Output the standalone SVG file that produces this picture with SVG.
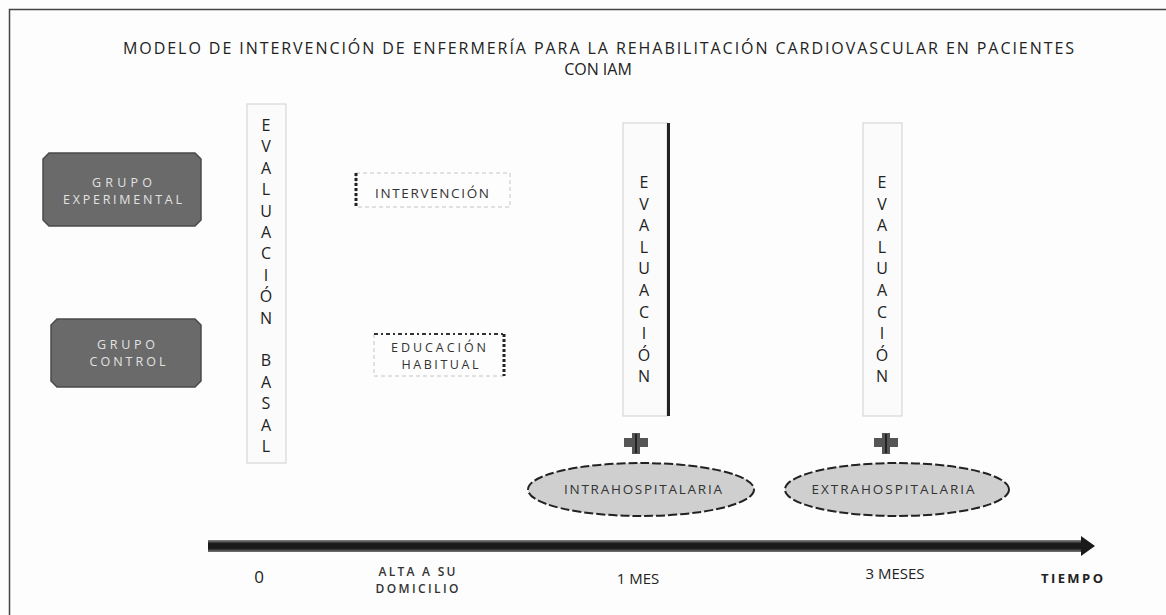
<svg xmlns="http://www.w3.org/2000/svg" width="1166" height="615" viewBox="0 0 1166 615">
<defs>
<style>
text{font-family:"Open Sans","Liberation Sans",sans-serif;}
.title{font-size:16px;fill:#222;}
.vl{font-size:16px;fill:#222;text-anchor:middle;}
.evbox{fill:#fbfbfb;stroke:#cfcfcf;stroke-width:1;}
.grp{fill:#6a6a6a;stroke:#4a4a4a;stroke-width:1.5;}
.grpt{font-size:12.5px;fill:#e2e2e2;}
.lbl{font-size:13.5px;fill:#333;}
.lbl2{font-size:12.5px;fill:#333;}
.ellt{font-size:13.5px;fill:#333;}
.light{fill:none;stroke:#c4c4c4;stroke-width:1;stroke-dasharray:4 3;}
.dotted{fill:none;stroke:#222;stroke-width:3;stroke-dasharray:3 2;}
.dashdot{fill:none;stroke:#333;stroke-width:2;stroke-dasharray:4 3 2 3;}
.ell{fill:#cfcfcf;stroke:#222;stroke-width:2;stroke-dasharray:9 3;}
.plush{fill:#555;}
.plusc{fill:#222;}
.axis{font-size:15px;fill:#222;text-anchor:middle;}
.small{font-size:12px;fill:#333;font-weight:600;}
</style>
<linearGradient id="shaft" x1="0" y1="0" x2="0" y2="1">
<stop offset="0" stop-color="#888"/>
<stop offset="0.3" stop-color="#1a1a1a"/>
<stop offset="0.7" stop-color="#1a1a1a"/>
<stop offset="1" stop-color="#777"/>
</linearGradient>
</defs>
<rect x="0" y="0" width="1166" height="615" fill="#fdfdfd"/>
<path d="M9.5,615 V9.5 H1166" fill="none" stroke="#444" stroke-width="1.5"/>

<g id="title">
<text class="title"><tspan x="123" y="54" textLength="951" lengthAdjust="spacing">MODELO DE INTERVENCIÓN DE ENFERMERÍA PARA LA REHABILITACIÓN CARDIOVASCULAR EN PACIENTES</tspan><tspan x="598" y="75" style="text-anchor:middle">CON IAM</tspan></text>
</g>

<g id="connectors">
<rect x="208" y="540" width="875" height="12" fill="url(#shaft)"/>
<polygon points="1081,536 1095,546 1081,556" fill="#1a1a1a"/>
</g>

<g id="grupo-experimental">
<path class="grp" d="M49,153 H195 L201,159 V220 L195,226 H49 L43,220 V159 Z"/>
<text class="grpt"><tspan x="92" y="187" textLength="60" lengthAdjust="spacing">GRUPO</tspan><tspan x="63" y="204" textLength="119" lengthAdjust="spacing">EXPERIMENTAL</tspan></text>
</g>

<g id="grupo-control">
<path class="grp" d="M57,319 H195 L201,325 V381 L195,387 H57 L51,381 V325 Z"/>
<text class="grpt"><tspan x="97" y="349" textLength="58" lengthAdjust="spacing">GRUPO</tspan><tspan x="89.5" y="366" textLength="76" lengthAdjust="spacing">CONTROL</tspan></text>
</g>

<g id="evaluacion-basal">
<rect class="evbox" x="247" y="104" width="39" height="359"/>
<text class="vl"><tspan x="266" y="131">E</tspan><tspan x="266" y="152.4">V</tspan><tspan x="266" y="173.8">A</tspan><tspan x="266" y="195.2">L</tspan><tspan x="266" y="216.6">U</tspan><tspan x="266" y="238">A</tspan><tspan x="266" y="259.4">C</tspan><tspan x="266" y="280.8">I</tspan><tspan x="266" y="302.2">Ó</tspan><tspan x="266" y="323.6">N</tspan><tspan x="266" y="366.4">B</tspan><tspan x="266" y="387.8">A</tspan><tspan x="266" y="409.2">S</tspan><tspan x="266" y="430.6">A</tspan><tspan x="266" y="452">L</tspan></text>
</g>

<g id="intervencion">
<rect class="light" x="356" y="173" width="154" height="34"/>
<line class="dotted" x1="356" y1="173" x2="356" y2="207"/>
<text class="lbl" x="375" y="198" textLength="114" lengthAdjust="spacing">INTERVENCIÓN</text>
</g>

<g id="educacion-habitual">
<path class="light" d="M374,334 V376 H504"/>
<line class="dashdot" x1="374" y1="334" x2="504" y2="334"/>
<line class="dotted" x1="504" y1="334" x2="504" y2="376"/>
<text class="lbl2"><tspan x="391" y="352" textLength="95" lengthAdjust="spacing">EDUCACIÓN</tspan><tspan x="401.5" y="369" textLength="77" lengthAdjust="spacing">HABITUAL</tspan></text>
</g>

<g id="evaluacion-1mes">
<rect class="evbox" x="623" y="123" width="44" height="293"/>
<rect x="667" y="123" width="3" height="293" fill="#222"/>
<text class="vl"><tspan x="644" y="188">E</tspan><tspan x="644" y="209.6">V</tspan><tspan x="644" y="231.2">A</tspan><tspan x="644" y="252.8">L</tspan><tspan x="644" y="274.4">U</tspan><tspan x="644" y="296">A</tspan><tspan x="644" y="317.6">C</tspan><tspan x="644" y="339.2">I</tspan><tspan x="644" y="360.8">Ó</tspan><tspan x="644" y="382.4">N</tspan></text>
</g>

<g id="evaluacion-3meses">
<rect class="evbox" x="863" y="123" width="39" height="293"/>
<text class="vl"><tspan x="882" y="188">E</tspan><tspan x="882" y="209.6">V</tspan><tspan x="882" y="231.2">A</tspan><tspan x="882" y="252.8">L</tspan><tspan x="882" y="274.4">U</tspan><tspan x="882" y="296">A</tspan><tspan x="882" y="317.6">C</tspan><tspan x="882" y="339.2">I</tspan><tspan x="882" y="360.8">Ó</tspan><tspan x="882" y="382.4">N</tspan></text>
</g>

<g id="plus-1">
<rect class="plush" x="624" y="438" width="24" height="9"/>
<rect class="plush" x="632" y="433" width="8" height="21"/>
<rect class="plusc" x="635" y="434" width="2" height="19"/>
</g>

<g id="plus-2">
<rect class="plush" x="874" y="438" width="24" height="9"/>
<rect class="plush" x="882" y="433" width="8" height="21"/>
<rect class="plusc" x="885" y="434" width="2" height="19"/>
</g>

<g id="intrahospitalaria">
<ellipse class="ell" cx="641" cy="489.5" rx="113" ry="26.5"/>
<text class="ellt" x="564" y="494" textLength="158" lengthAdjust="spacing">INTRAHOSPITALARIA</text>
</g>

<g id="extrahospitalaria">
<ellipse class="ell" cx="897" cy="489.5" rx="112" ry="26.5"/>
<text class="ellt" x="811.5" y="494" textLength="163" lengthAdjust="spacing">EXTRAHOSPITALARIA</text>
</g>

<g id="axis-labels">
<text class="axis" x="259" y="583" style="font-size:17px">0</text>
<text class="small"><tspan x="378.5" y="576" textLength="77" lengthAdjust="spacing">ALTA A SU</tspan><tspan x="375.5" y="593" textLength="83" lengthAdjust="spacing">DOMICILIO</tspan></text>
<text class="axis" x="638" y="584">1 MES</text>
<text class="axis" x="895" y="579">3 MESES</text>
<text x="1041" y="583" textLength="62" lengthAdjust="spacing" style="font-size:13px;font-weight:bold;fill:#222">TIEMPO</text>
</g>
</svg>
